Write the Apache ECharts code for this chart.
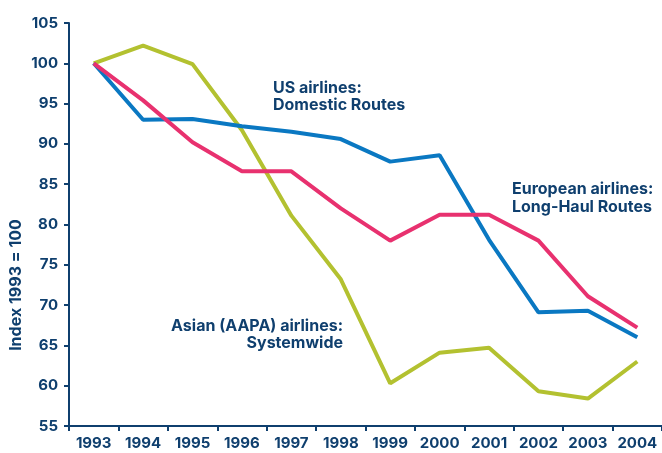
<!DOCTYPE html>
<html>
<head>
<meta charset="utf-8">
<script src="https://cdn.jsdelivr.net/npm/echarts@6/dist/echarts.min.js"></script>
<style>
  html, body { margin: 0; padding: 0; background: #fff; }
  #chart { width: 662px; height: 453px; }
</style>
</head>
<body>
<div id="chart"></div>
<script>
// years on the x axis
var years = ['1993', '1994', '1995', '1996', '1997', '1998', '1999', '2000', '2001', '2002', '2003', '2004'];
// index values, 1993 = 100
var usDomestic = [100, 93.0, 93.1, 92.2, 91.5, 90.6, 87.8, 88.6, 78.1, 69.1, 69.3, 66.0];
var euroLongHaul = [100, 95.4, 90.2, 86.6, 86.6, 82.0, 78.0, 81.2, 81.2, 78.0, 71.1, 67.2];
var asianSystem = [100, 102.2, 99.9, 91.7, 81.1, 73.2, 60.3, 64.1, 64.7, 59.3, 58.4, 63.0];
var yTicks = [55, 60, 65, 70, 75, 80, 85, 90, 95, 100, 105];

var navy = '#0f3f6e';
var font = 'Inter, "Liberation Sans", Arial, sans-serif';

var chart = echarts.init(document.getElementById('chart'));

var option = {
  animation: false,
  grid: { left: 69, right: 0, top: 23, bottom: 27 },
  xAxis: {
    type: 'category',
    data: years,
    boundaryGap: true,
    axisLine: { lineStyle: { color: navy, width: 2 } },
    axisTick: { show: true, length: 5, lineStyle: { color: navy, width: 2 } },
    axisLabel: { interval: 0, color: navy, fontFamily: font, fontWeight: 'bold', fontSize: 15, margin: 10 }
  },
  yAxis: {
    type: 'value',
    min: yTicks[0],
    max: yTicks[yTicks.length - 1],
    interval: 5,
    axisLine: { show: true, lineStyle: { color: navy, width: 2 } },
    axisTick: { show: true, length: 5, lineStyle: { color: navy, width: 2 } },
    splitLine: { show: false },
    axisLabel: { color: navy, fontFamily: font, fontWeight: 'bold', fontSize: 15, margin: 11 }
  },
  series: [
    {
      name: 'US airlines: Domestic Routes',
      type: 'line',
      data: usDomestic,
      symbol: 'none',
      lineStyle: { color: '#0a78c2', width: 4 },
      z: 3
    },
    {
      name: 'European airlines: Long-Haul Routes',
      type: 'line',
      data: euroLongHaul,
      symbol: 'none',
      lineStyle: { color: '#e8316f', width: 4 },
      z: 4
    },
    {
      name: 'Asian (AAPA) airlines: Systemwide',
      type: 'line',
      data: asianSystem,
      symbol: 'none',
      lineStyle: { color: '#b3c130', width: 4 },
      z: 2
    }
  ],
  graphic: [
    {
      type: 'text', x: 16, y: 285, rotation: Math.PI / 2,
      style: { text: 'Index 1993 = 100', fill: navy, font: 'bold 16px ' + font, align: 'center', verticalAlign: 'middle' }
    },
    {
      type: 'text', x: 273, y: 80,
      style: { text: 'US airlines:\nDomestic Routes', fill: navy, font: 'bold 16px ' + font, lineHeight: 17 }
    },
    {
      type: 'text', x: 512, y: 180,
      style: { text: 'European airlines:\nLong-Haul Routes', fill: navy, font: 'bold 16px ' + font, lineHeight: 18 }
    },
    {
      type: 'text', x: 343, y: 318,
      style: { text: 'Asian (AAPA) airlines:\nSystemwide', fill: navy, font: 'bold 16px ' + font, lineHeight: 17, align: 'right' }
    }
  ]
};

chart.setOption(option);
</script>
</body>
</html>
